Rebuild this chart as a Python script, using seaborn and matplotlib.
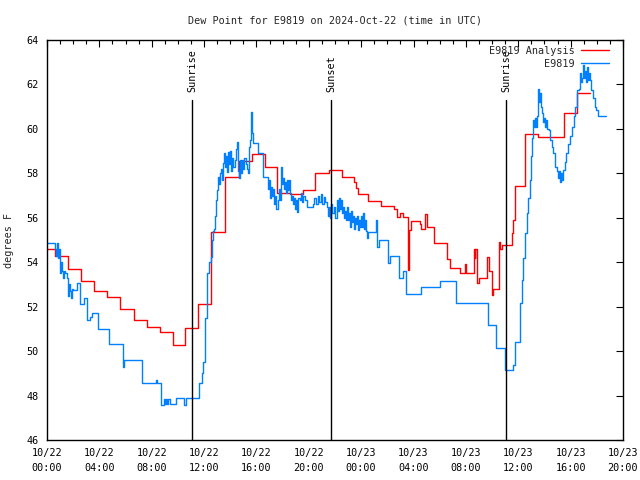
import matplotlib
matplotlib.use("Agg")
import matplotlib.pyplot as plt
import seaborn as sns
import pandas as pd

# ---- data (time in hours since 2024-10-22 00:00 UTC) ----
analysis_hours = [0.00, 0.61, 1.60, 2.60, 3.59, 4.58, 5.58, 6.65, 7.64, 8.63, 9.63, 10.54,
                  11.53, 12.51, 13.60, 14.67, 15.66, 16.65, 17.59, 18.56, 19.56, 20.47,
                  21.52, 22.51, 23.45, 23.60, 23.76, 24.52, 25.51, 26.51, 26.74, 26.97,
                  27.19, 27.54, 27.65, 27.81, 28.49, 28.57, 28.91, 28.99, 29.56, 30.56,
                  30.78, 31.55, 31.93, 32.01, 32.58, 32.66, 32.73, 32.81, 33.00, 33.61,
                  33.76, 33.97, 34.07, 34.53, 34.64, 34.76, 35.50, 35.62, 35.75, 36.51,
                  37.51, 39.49, 40.51, 41.48]
analysis_values = [54.58, 54.28, 53.68, 53.17, 52.69, 52.42, 51.88, 51.40, 51.07, 50.86, 50.26, 51.02,
                   52.10, 55.38, 57.85, 58.57, 58.87, 58.30, 57.10, 57.06, 57.25, 58.03,
                   58.15, 57.85, 57.60, 57.35, 57.07, 56.74, 56.53, 56.38, 56.05, 56.20,
                   56.05, 53.65, 55.45, 55.87, 55.70, 55.50, 56.17, 55.60, 54.85, 54.13,
                   53.74, 53.50, 53.90, 53.50, 54.58, 54.20, 54.58, 53.08, 53.27, 54.25,
                   53.60, 52.52, 52.78, 54.92, 54.60, 54.76, 55.30, 55.90, 57.43, 59.76,
                   59.65, 60.73, 61.63, 61.63]

obs_hours = [0.00, 0.61, 0.69, 0.76, 0.84, 0.92, 0.99, 1.07, 1.15, 1.22, 1.30, 1.38, 1.53, 1.60,
             1.68, 1.76, 1.83, 1.91, 1.99, 2.29, 2.52, 2.79, 3.09, 3.25, 3.40, 3.90, 4.74, 5.77,
             5.88, 7.26, 8.33, 8.40, 8.71, 8.90, 8.98, 9.09, 9.17, 9.28, 9.40, 9.85, 10.47, 10.58,
             11.61, 11.84, 11.92, 12.07, 12.22, 12.38, 12.53, 12.60, 12.68, 12.76, 12.83, 12.91,
             12.99, 13.06, 13.14, 13.22, 13.29, 13.37, 13.44, 13.52, 13.60, 13.67, 13.75, 13.83,
             13.90, 13.98, 14.06, 14.13, 14.21, 14.36, 14.44, 14.51, 14.59, 14.67, 14.74, 14.82,
             14.90, 14.97, 15.05, 15.20, 15.28, 15.35, 15.43, 15.51, 15.58, 15.66, 15.74, 16.12,
             16.50, 16.88, 16.96, 17.03, 17.11, 17.19, 17.26, 17.34, 17.42, 17.49, 17.65, 17.72,
             17.80, 17.88, 17.95, 18.03, 18.10, 18.18, 18.26, 18.33, 18.41, 18.49, 18.56, 18.64,
             18.72, 18.79, 18.87, 18.94, 19.02, 19.10, 19.17, 19.33, 19.40, 19.48, 19.56, 19.71,
             19.86, 20.32, 20.40, 20.55, 20.70, 20.78, 20.93, 21.01, 21.16, 21.24, 21.39, 21.47,
             21.54, 21.62, 21.69, 21.77, 21.92, 22.00, 22.15, 22.23, 22.31, 22.38, 22.46, 22.54,
             22.61, 22.69, 22.76, 22.84, 22.92, 22.99, 23.07, 23.15, 23.22, 23.30, 23.38, 23.45,
             23.53, 23.60, 23.68, 23.76, 23.83, 23.91, 23.99, 24.06, 24.14, 24.22, 24.29, 24.37,
             24.44, 24.52, 25.13, 25.21, 25.36, 26.05, 26.20, 26.89, 27.23, 27.42, 28.57, 30.02,
             31.24, 33.69, 34.30, 34.99, 35.60, 35.75, 36.13, 36.29, 36.36, 36.51, 36.67, 36.74,
             36.90, 36.97, 37.05, 37.13, 37.20, 37.28, 37.35, 37.43, 37.51, 37.58, 37.66, 37.74,
             37.81, 37.89, 37.97, 38.04, 38.12, 38.20, 38.35, 38.42, 38.58, 38.65, 38.81, 38.96,
             39.04, 39.11, 39.19, 39.26, 39.34, 39.42, 39.57, 39.65, 39.80, 39.95, 40.10, 40.26,
             40.33, 40.49, 40.64, 40.72, 40.79, 40.87, 40.95, 41.02, 41.10, 41.17, 41.25, 41.33,
             41.40, 41.48, 41.56, 41.71, 41.86, 41.94, 42.09, 42.70]
obs_values = [54.85, 54.6, 54.3, 54.85, 54.2, 54.6, 53.5, 54.0, 53.6, 53.3, 53.6, 53.5, 53.3, 52.5,
              53.0, 52.7, 52.4, 52.8, 52.75, 53.08, 52.1, 52.37, 51.4, 51.55, 51.7, 50.98, 50.3, 49.3,
              49.6, 48.55, 48.7, 48.55, 47.57, 47.85, 47.6, 47.85, 47.6, 47.85, 47.6, 47.87, 47.57, 47.87,
              48.58, 49.0, 49.5, 51.5, 53.5, 54.0, 54.25, 55.0, 55.4, 55.5, 56.1, 56.8,
              57.25, 57.85, 57.5, 58.0, 58.2, 57.7, 58.45, 58.9, 58.3, 58.8, 58.05, 58.95,
              58.4, 59.0, 58.1, 58.7, 58.3, 58.6, 59.1, 59.42, 58.1, 57.8, 58.6, 58.0,
              58.6, 58.2, 58.7, 58.4, 58.2, 58.0, 59.2, 59.5, 60.77, 59.8, 59.35, 58.9,
              57.85, 57.3, 57.7, 56.9, 57.4, 57.0, 57.3, 56.6, 57.0, 56.4, 56.8, 57.3,
              56.8, 58.3, 57.5, 57.8, 57.3, 57.6, 57.1, 57.7, 57.25, 57.7, 57.1, 56.8,
              57.0, 56.6, 56.9, 56.4, 56.8, 56.27, 56.9, 56.8, 57.1, 56.7, 57.0, 56.8,
              56.5, 56.6, 56.9, 56.6, 57.0, 56.7, 57.05, 56.6, 56.95, 56.7, 56.5, 56.1,
              56.5, 56.0, 56.6, 56.2, 56.5, 56.0, 56.8, 56.3, 56.9, 56.4, 56.8, 56.2,
              56.5, 56.0, 56.3, 55.9, 56.5, 55.9, 56.2, 55.6, 56.3, 55.8, 56.1, 55.5,
              56.0, 55.7, 56.1, 55.45, 55.9, 55.6, 56.1, 55.6, 56.2, 55.5, 55.9, 55.4,
              55.1, 55.38, 55.9, 54.7, 55.0, 53.95, 54.28, 53.27, 53.6, 52.55, 52.87, 53.15,
              52.15, 51.17, 50.13, 49.15, 49.37, 50.42, 52.15, 53.2, 54.2, 55.3, 56.2, 56.9,
              57.7, 58.8, 59.6, 60.4, 60.1, 60.5, 60.1, 60.6, 61.8, 61.2, 61.6, 61.0,
              60.7, 60.3, 60.5, 60.1, 60.4, 60.0, 59.95, 59.5, 59.2, 58.9, 58.3, 58.1,
              57.8, 58.1, 57.6, 58.0, 57.7, 58.15, 58.5, 58.9, 59.3, 59.7, 60.1, 60.6,
              61.0, 61.75, 61.8, 62.5, 62.1, 62.3, 62.87, 62.3, 62.6, 62.1, 62.8, 62.2,
              62.5, 62.2, 61.75, 61.4, 61.0, 60.85, 60.58, 60.58]

sun_event_hours = [11.08, 21.69, 35.06]
sun_event_labels = ["Sunrise", "Sunset", "Sunrise"]

xtick_hours = [0, 4, 8, 12, 16, 20, 24, 28, 32, 36, 40, 44]
xtick_labels = ["10/22\n00:00", "10/22\n04:00", "10/22\n08:00", "10/22\n12:00",
                "10/22\n16:00", "10/22\n20:00", "10/23\n00:00", "10/23\n04:00",
                "10/23\n08:00", "10/23\n12:00", "10/23\n16:00", "10/23\n20:00"]
ytick_values = [46, 48, 50, 52, 54, 56, 58, 60, 62, 64]

series_names = ["E9819 Analysis", "E9819"]
series_colors = ["#ff0000", "#0080ff"]

# ---- plotting ----
sns.set_style("white")
plt.rcParams["font.family"] = ["DejaVu Sans Mono"]
FS = 7.3
plt.rcParams["font.size"] = FS

fig = plt.figure(figsize=(6.4, 4.8), dpi=100)
ax = fig.add_axes([47 / 640, 40 / 480, 576 / 640, 400 / 480])

df_a = pd.DataFrame({"hours": analysis_hours, "value": analysis_values})
df_o = pd.DataFrame({"hours": obs_hours, "value": obs_values})

sns.lineplot(data=df_a, x="hours", y="value", ax=ax, color=series_colors[0],
             drawstyle="steps-post", linewidth=1.0, estimator=None, label=series_names[0])
sns.lineplot(data=df_o, x="hours", y="value", ax=ax, color=series_colors[1],
             drawstyle="steps-post", linewidth=1.0, estimator=None, label=series_names[1])

line_top = 61.3
for h, lab in zip(sun_event_hours, sun_event_labels):
    ax.plot([h, h], [46, line_top], color="black", linewidth=1.0)
    ax.text(h, line_top + 0.35, lab, rotation=90, ha="center", va="bottom",
            fontsize=FS, color="black")

ax.set_xlim(0, 44)
ax.set_ylim(46, 64)
ax.set_xticks(xtick_hours)
ax.set_xticklabels(xtick_labels, linespacing=1.6)
ax.set_xticks(range(0, 45), minor=True)
ax.set_yticks(ytick_values)
ax.set_yticklabels([str(v) for v in ytick_values])
ax.tick_params(axis="both", which="both", direction="in", top=True, right=True,
               colors="black", width=0.8, labelsize=FS)
ax.tick_params(axis="both", which="major", length=5, pad=6)
ax.tick_params(axis="x", which="minor", length=3)
for s in ax.spines.values():
    s.set_color("black")
    s.set_linewidth(1.0)

ax.set_xlabel("")
ax.set_ylabel("degrees F", labelpad=9, fontsize=FS)
ax.set_title("Dew Point for E9819 on 2024-Oct-22 (time in UTC)", fontsize=FS, pad=12)

leg = ax.legend(loc="upper right", bbox_to_anchor=(0.978, 0.988), frameon=False,
                markerfirst=False, handlelength=2.8, fontsize=FS, borderaxespad=0.0,
                borderpad=0.1, labelspacing=0.28, handletextpad=0.6)
for t in leg.get_texts():
    t.set_ha("right")

fig.savefig("out.png", dpi=100)
